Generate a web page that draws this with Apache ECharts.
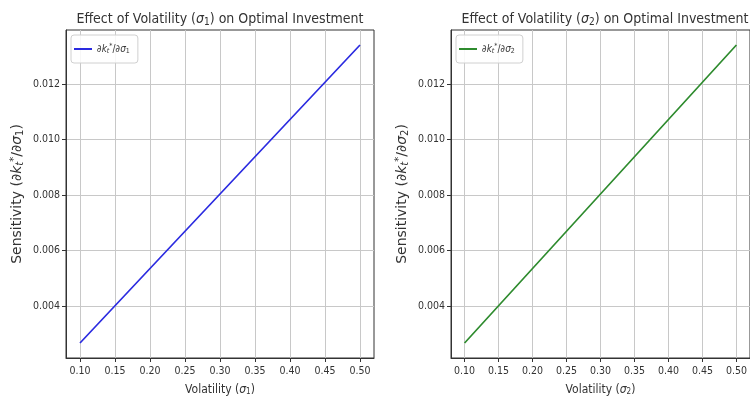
<!DOCTYPE html>
<html><head><meta charset="utf-8">
<script src="https://cdn.jsdelivr.net/npm/echarts@6/dist/echarts.min.js"></script>
<style>html,body{margin:0;padding:0;background:#fff}#c{width:750px;height:401px}</style>
</head><body><div id="c"></div>
<script>
var sigma = [0.10, 0.15, 0.20, 0.25, 0.30, 0.35, 0.40, 0.45, 0.50];
var sens1 = [0.00268, 0.00402, 0.00536, 0.00670, 0.00804, 0.00938, 0.01072, 0.01206, 0.01340];
var sens2 = [0.00268, 0.00402, 0.00536, 0.00670, 0.00804, 0.00938, 0.01072, 0.01206, 0.01340];
var xTicks = [0.10, 0.15, 0.20, 0.25, 0.30, 0.35, 0.40, 0.45, 0.50];
var yTicks = [0.004, 0.006, 0.008, 0.010, 0.012];

var FONT = '"DejaVu Sans Condensed", "DejaVu Sans", sans-serif';
var FONT_V = '"DejaVu Sans", sans-serif';
var TXT = '#333';
var richBase = function (size, fam) {
  fam = fam || FONT;
  var sub = Math.round(size * 0.7);
  var off = Math.round(size * 0.45);
  return {
    n: {fontSize: size, fontFamily: fam, color: TXT},
    i: {fontSize: size, fontFamily: fam, color: TXT, fontStyle: 'italic'},
    s: {fontSize: sub, fontFamily: fam, color: TXT, padding: [off, 0, 0, 0]},
    si: {fontSize: sub, fontFamily: fam, color: TXT, fontStyle: 'italic', padding: [off, 0, 0, 0]},
    p: {fontSize: sub, fontFamily: fam, color: TXT, padding: [0, 0, off, 0]}
  };
};
function pair(d1, xs) { return xs.map(function (x, i) { return [x, d1[i]]; }); }

var grids = [{left: 66, top: 30, width: 308, height: 329}, {left: 451, top: 30, width: 308, height: 329}];
var colors = ['#2b2be0', '#2e8b2e'];
var idx = ['1', '2'];
var datas = [sens1, sens2];

var option = {
  animation: false,
  backgroundColor: '#fff',
  title: grids.map(function (g, k) {
    return {
      text: '{n|Effect of Volatility (}{i|σ}{s|' + idx[k] + '}{n|) on Optimal Investment}',
      left: g.left + g.width / 2 - 5, top: 6, textAlign: 'center',
      textStyle: {fontWeight: 'normal', rich: richBase(14)}
    };
  }),
  legend: grids.map(function (g, k) {
    return {
      left: g.left + 5, top: 35, orient: 'vertical',
      data: ['s' + k],
      icon: 'rect', itemWidth: 18, itemHeight: 2, itemGap: 5,
      padding: [8, 8, 8, 3],
      borderColor: '#d0d0d0', borderWidth: 1, borderRadius: 3,
      backgroundColor: 'rgba(255,255,255,0.85)',
      formatter: function () { return '{i|∂k}{si|t}{p|*}{n|/∂}{i|σ}{s|' + idx[k] + '}'; },
      textStyle: {rich: richBase(10)}
    };
  }),
  grid: grids.map(function (g) {
    return {left: g.left, top: g.top, width: g.width, height: g.height, show: true, borderColor: '#333', borderWidth: 1, backgroundColor: 'transparent'};
  }),
  xAxis: grids.map(function (g, k) {
    return {
      type: 'value', gridIndex: k, min: 0.08, max: 0.52,
      name: '{n|Volatility (}{i|σ}{s|' + idx[k] + '}{n|)}', nameLocation: 'middle', nameGap: 25,
      nameTextStyle: {rich: richBase(12)},
      axisLine: {show: true, onZero: false, lineStyle: {color: '#333'}},
      axisTick: {show: true, length: 4, customValues: xTicks, lineStyle: {color: '#333'}},
      axisLabel: {customValues: xTicks, fontSize: 10.5, fontFamily: FONT, color: TXT, margin: 8,
        formatter: function (v) { return v.toFixed(2); }},
      splitLine: {show: true, lineStyle: {color: '#c8c8c8', width: 1}}
    };
  }),
  yAxis: grids.map(function (g, k) {
    return {
      type: 'value', gridIndex: k, min: 0.00214, max: 0.01394,
      name: '{n|Sensitivity (∂}{i|k}{si|t}{p|*}{n|/∂}{i|σ}{s|' + idx[k] + '}{n|)}', nameLocation: 'middle', nameGap: 41,
      nameTextStyle: {rich: richBase(14, FONT_V)},
      axisLine: {show: true, onZero: false, lineStyle: {color: '#333'}},
      axisTick: {show: true, length: 4, customValues: yTicks, lineStyle: {color: '#333'}},
      axisLabel: {customValues: yTicks, fontSize: 10.5, fontFamily: FONT, color: TXT, margin: 6,
        formatter: function (v) { return v.toFixed(3); }},
      splitLine: {show: true, lineStyle: {color: '#c8c8c8', width: 1}}
    };
  }),
  series: grids.map(function (g, k) {
    return {
      name: 's' + k, type: 'line', xAxisIndex: k, yAxisIndex: k,
      data: pair(datas[k], sigma), showSymbol: false, symbol: 'none',
      lineStyle: {color: colors[k], width: 1.7}, itemStyle: {color: colors[k]}
    };
  })
};
var chart = echarts.init(document.getElementById('c'), null, {renderer: 'canvas'});
chart.setOption(option);
</script></body></html>
